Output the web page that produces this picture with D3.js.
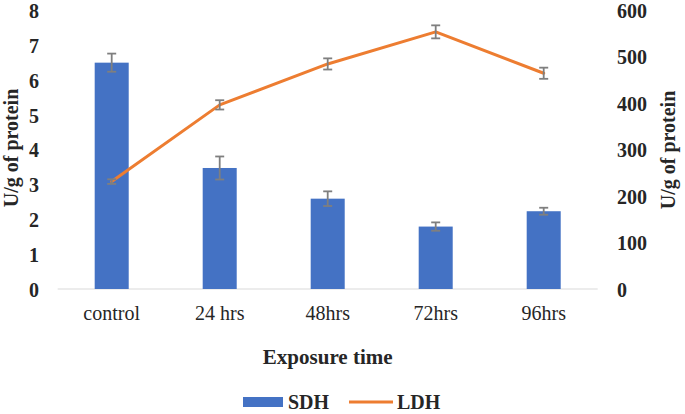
<!DOCTYPE html>
<html><head><meta charset="utf-8">
<script src="https://cdn.jsdelivr.net/npm/d3@7"></script>
<style>body{margin:0;background:#fff}svg{display:block}
svg text{font-family:"Liberation Serif","Times New Roman","DejaVu Serif",serif !important;fill:#262626}</style>
</head><body>
<svg id="c" width="685" height="414"></svg>
<script>
const categories = ["control", "24 hrs", "48hrs", "72hrs", "96hrs"];
const sdhValues = [6.49, 3.47, 2.59, 1.79, 2.23];
const sdhErrors = [0.26, 0.33, 0.21, 0.12, 0.10];
const ldhValues = [231, 396, 484, 553, 464];
const ldhErrors = [5, 10, 12, 14, 12];
const leftTicks = [0, 1, 2, 3, 4, 5, 6, 7, 8];
const rightTicks = [0, 100, 200, 300, 400, 500, 600];

const svg = d3.select("#c");
const x = d3.scaleBand().domain(categories).range([57.7, 597.7]).paddingInner(0.685).paddingOuter(0.3425);
const yL = d3.scaleLinear().domain([0, 8]).range([289, 10]);
const yR = d3.scaleLinear().domain([0, 600]).range([289, 10]);
const cx = d => x(d) + x.bandwidth() / 2;

// baseline
svg.append("line").attr("x1", 57.7).attr("x2", 597.7).attr("y1", yL(0)).attr("y2", yL(0))
  .attr("stroke", "#d9d9d9").attr("stroke-width", 1);

// bars
svg.selectAll("rect.bar").data(categories).join("rect").attr("class", "bar")
  .attr("x", d => x(d)).attr("width", x.bandwidth())
  .attr("y", (d, i) => yL(sdhValues[i])).attr("height", (d, i) => yL(0) - yL(sdhValues[i]))
  .attr("fill", "#4472c4");

function errBars(vals, errs, scale) {
  const g = svg.append("g").attr("stroke", "#7f7f7f").attr("stroke-width", 1.8);
  categories.forEach((c, i) => {
    const xc = cx(c), t = scale(vals[i] + errs[i]), b = scale(vals[i] - errs[i]);
    g.append("line").attr("x1", xc).attr("x2", xc).attr("y1", t).attr("y2", b);
    g.append("line").attr("x1", xc - 4.5).attr("x2", xc + 4.5).attr("y1", t).attr("y2", t);
    g.append("line").attr("x1", xc - 4.5).attr("x2", xc + 4.5).attr("y1", b).attr("y2", b);
  });
}
errBars(sdhValues, sdhErrors, yL);

// LDH line
const line = d3.line().x((d, i) => cx(categories[i])).y(d => yR(d));
svg.append("path").datum(ldhValues).attr("d", line).attr("fill", "none")
  .attr("stroke", "#ed7d31").attr("stroke-width", 3).attr("stroke-linejoin", "round").attr("stroke-linecap", "round");
errBars(ldhValues, ldhErrors, yR);

// axes
const axL = svg.append("g").attr("transform", "translate(39,1)")
  .call(d3.axisLeft(yL).tickValues(leftTicks).tickSize(0).tickPadding(0).tickFormat(d3.format("d")));
const axR = svg.append("g").attr("transform", "translate(617,1)")
  .call(d3.axisRight(yR).tickValues(rightTicks).tickSize(0).tickPadding(0).tickFormat(d3.format("d")));
[axL, axR].forEach(a => {
  a.select(".domain").remove();
  a.attr("font-family", null).attr("font-size", null);
  a.selectAll("text").style("font-weight", "bold").style("font-size", "20px");
});
const axB = svg.append("g").attr("transform", `translate(0,${yL(0)})`)
  .call(d3.axisBottom(x).tickSize(0).tickPadding(17));
axB.select(".domain").remove();
axB.attr("font-family", null).attr("font-size", null);
axB.selectAll("text").style("font-size", "20px");

// titles
svg.append("text").attr("transform", "translate(18,148) rotate(-90)").attr("text-anchor", "middle")
  .style("font-weight", "bold").style("font-size", "20px").text("U/g of protein");
svg.append("text").attr("transform", "translate(675,150) rotate(-90)").attr("text-anchor", "middle")
  .style("font-weight", "bold").style("font-size", "20px").text("U/g of protein");
svg.append("text").attr("x", 327.7).attr("y", 364).attr("text-anchor", "middle")
  .style("font-weight", "bold").style("font-size", "21px").text("Exposure time");

// legend
const lg = svg.append("g");
lg.append("rect").attr("x", 243).attr("y", 397).attr("width", 40).attr("height", 10).attr("fill", "#4472c4");
lg.append("text").attr("x", 288).attr("y", 409).style("font-weight", "bold").style("font-size", "20px").text("SDH");
lg.append("line").attr("x1", 349).attr("x2", 393).attr("y1", 402).attr("y2", 402).attr("stroke", "#ed7d31").attr("stroke-width", 3);
lg.append("text").attr("x", 397).attr("y", 409).style("font-weight", "bold").style("font-size", "20px").text("LDH");
</script>
</body></html>
